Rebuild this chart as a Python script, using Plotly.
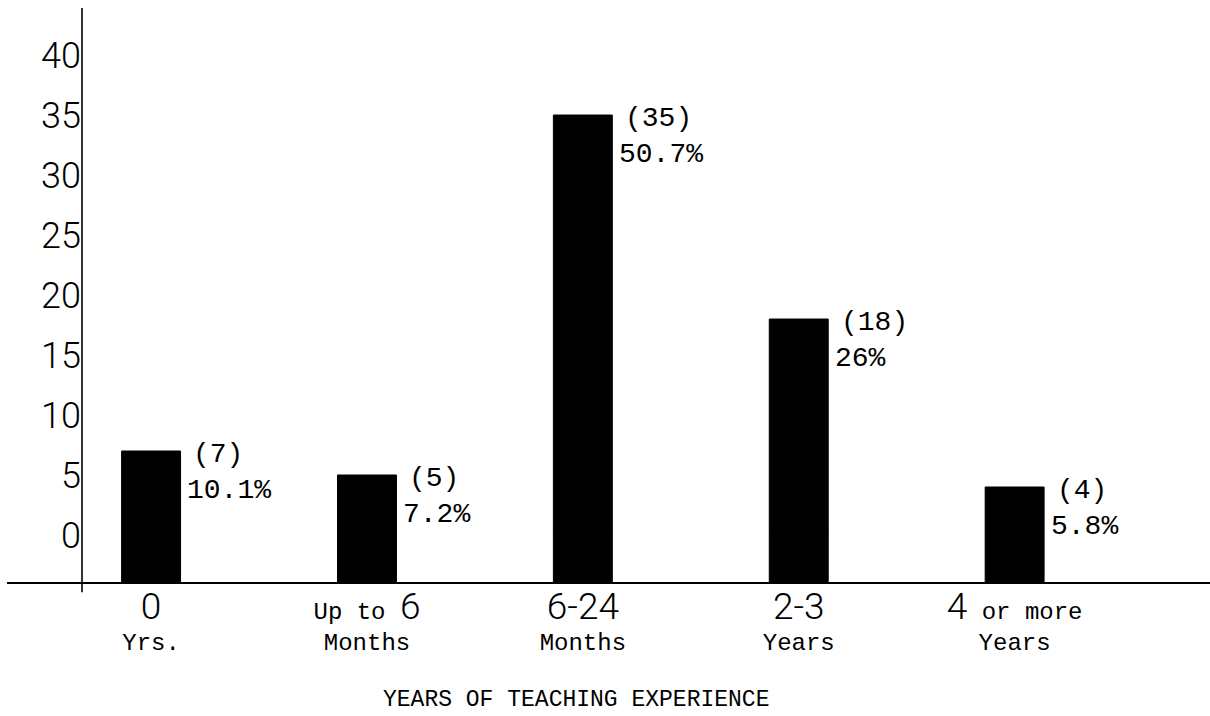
import re
import plotly.graph_objects as go

# Teachers grouped by years of teaching experience
categories = ["0 Yrs.", "Up to 6 Months", "6-24 Months", "2-3 Years", "4 or more Years"]
tick_top = ["0", "Up to 6", "6-24", "2-3", "4 or more"]
tick_bottom = ["Yrs.", "Months", "Months", "Years", "Years"]
counts = [7, 5, 35, 18, 4]
percents = ["10.1%", "7.2%", "50.7%", "26%", "5.8%"]
y_ticks = [0, 5, 10, 15, 20, 25, 30, 35, 40]
axis_floor = -4  # the ruled baseline sits a little under the zero mark

HAND = "Roboto, Liberation Sans, sans-serif"
TYPE = "Liberation Mono, Courier New, monospace"
BAR_WIDTH = 0.273


def lettered(text, size):
    """Set numerals in the thin hand-lettered style, the rest typed."""
    return re.sub(
        r"([0-9][0-9-]*)",
        lambda m: (f'<span style="font-family:{HAND};font-weight:300;'
                   f'font-size:{size}px">{m.group(1)}</span>'),
        text,
    )


tick_text = [f"{lettered(a, 37)}<br>{b}" for a, b in zip(tick_top, tick_bottom)]

fig = go.Figure()

# stub of each bar below the zero mark, down to the ruled baseline
fig.add_bar(
    x=categories,
    y=[axis_floor] * len(categories),
    width=BAR_WIDTH,
    marker=dict(color="black", line=dict(color="black", width=1)),
    hoverinfo="skip",
    showlegend=False,
)
# the counts themselves
fig.add_bar(
    x=categories,
    y=counts,
    width=BAR_WIDTH,
    marker=dict(color="black", line=dict(color="black", width=1)),
    showlegend=False,
)

annotations = []
half_px = 30
for cat, c, p in zip(categories, counts, percents):
    annotations.append(dict(
        x=cat, y=c, xref="x", yref="y", text=f"({c})", showarrow=False,
        xanchor="left", yanchor="middle", xshift=half_px + 10, yshift=-3,
        font=dict(family=TYPE, size=28, color="black"),
    ))
    annotations.append(dict(
        x=cat, y=c, xref="x", yref="y", text=p, showarrow=False,
        xanchor="left", yanchor="middle", xshift=half_px + 4, yshift=-39,
        font=dict(family=TYPE, size=28, color="black"),
    ))

annotations.append(dict(
    x=0.438, y=-0.203, xref="paper", yref="paper",
    text="YEARS OF TEACHING EXPERIENCE", showarrow=False,
    xanchor="center", yanchor="middle",
    font=dict(family=TYPE, size=23, color="black"),
))

shapes = [
    # ruled baseline, running out past the vertical axis
    dict(type="line", xref="paper", yref="paper", x0=-0.0665, x1=1.0, y0=0, y1=0,
         line=dict(color="black", width=2)),
    # vertical axis rule
    dict(type="line", xref="paper", yref="paper", x0=0, x1=0, y0=-0.016, y1=1.0,
         line=dict(color="black", width=1.6)),
]

fig.update_layout(
    width=1210,
    height=716,
    margin=dict(l=82, r=0, t=8, b=133),
    paper_bgcolor="white",
    plot_bgcolor="white",
    barmode="relative",
    annotations=annotations,
    shapes=shapes,
    font=dict(family=TYPE, color="black"),
)

fig.update_xaxes(
    type="category",
    range=[-0.32, 4.905],
    tickmode="array",
    tickvals=categories,
    ticktext=tick_text,
    tickfont=dict(family=TYPE, size=24, color="black"),
    ticks="outside",
    ticklen=6,
    tickcolor="rgba(0,0,0,0)",
    showline=False,
    showgrid=False,
    zeroline=False,
)

fig.update_yaxes(
    range=[axis_floor, 43.92],
    tickmode="array",
    tickvals=y_ticks,
    ticktext=[str(v) for v in y_ticks],
    tickfont=dict(family=HAND, size=36, color="black", weight=300),
    ticks="",
    showline=False,
    showgrid=False,
    zeroline=False,
)

fig.write_html("out.html")
